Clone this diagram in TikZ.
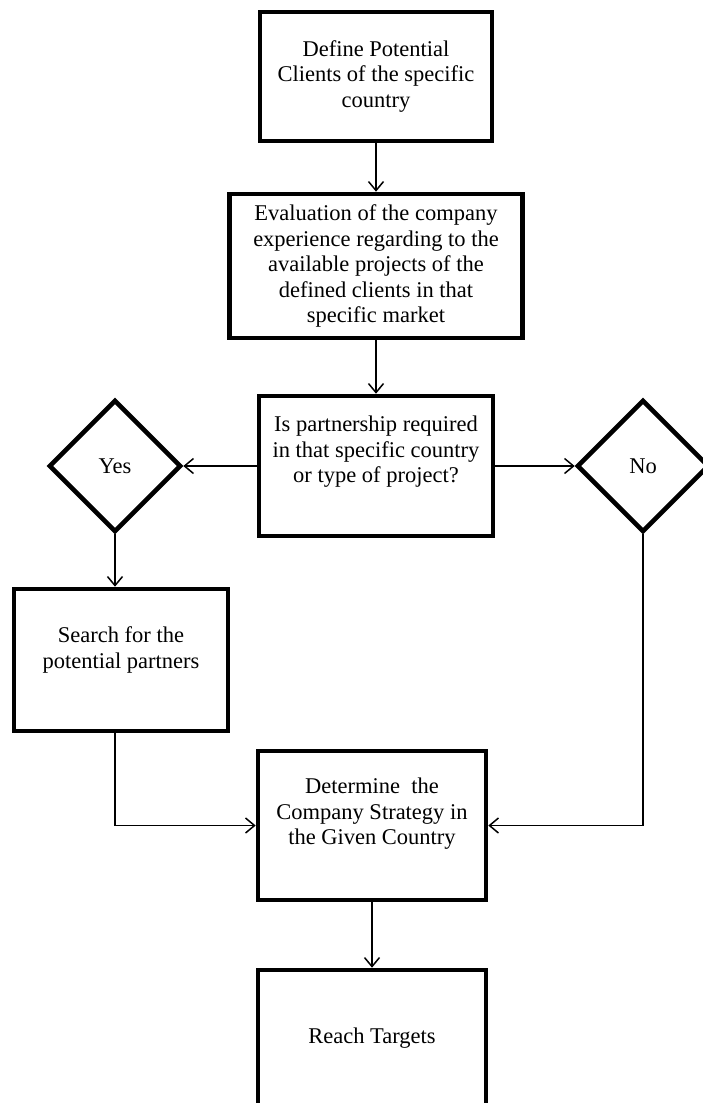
\documentclass[tikz,border=0pt]{standalone}
\usepackage{fontspec}
\setmainfont{Liberation Serif}
\usetikzlibrary{shapes.geometric,arrows.meta}
\begin{document}
\begin{tikzpicture}[x=1pt,y=-1pt,
 box/.style={draw,line width=4.6pt,rectangle,inner sep=0pt,align=center,font=\fontsize{22.5}{25.5}\selectfont},
 dia/.style={draw,line width=4.6pt,diamond,inner sep=0pt,minimum width=132pt,minimum height=132pt,font=\fontsize{22.5}{25.5}\selectfont},
 txt/.style={align=center,font=\fontsize{22.5}{25.5}\selectfont,inner sep=0pt},
 conn/.style={line width=1.5pt,-{Straight Barb[length=9pt,width=15pt]}},
]
\useasboundingbox (0,0) rectangle (703,1103);
\clip (0,0) rectangle (703,1103);

\node[box,minimum width=232pt,minimum height=129pt] (b1) at (376,76.5) {Define Potential\\Clients of the specific\\country};
\node[box,minimum width=293pt,minimum height=144pt] (b2) at (376,266) {Evaluation of the company\\experience regarding to the\\available projects of the\\defined clients in that\\specific market};
\node[box,minimum width=234pt,minimum height=140pt] (b3) at (376,466) {};
\node[txt] (t3) at (376,452) {Is partnership required\\in that specific country\\or type of project?};

\node[dia] (yes) at (115,466) {Yes};
\node[dia] (no) at (643,466) {No};

\node[box,minimum width=214pt,minimum height=142pt] (srch) at (121,660) {};
\node[txt] (ts) at (121,650) {Search for the\\potential partners};

\node[box,minimum width=228pt,minimum height=149pt] (det) at (372,825.5) {};
\node[txt] (td) at (372,814) {Determine\ \ the\\Company Strategy in\\the Given Country};

\node[box,minimum width=228pt,minimum height=200pt] (reach) at (372,1070) {};
\node[txt] (tr) at (372,1038) {Reach Targets};

\draw[conn] (b1) -- (b2);
\draw[conn] (b2) -- (b3);
\draw[conn] (b3.west) -- (yes.east);
\draw[conn] (b3.east) -- (no.west);
\draw[conn] (yes.south) -- (yes.south |- srch.north);
\draw[conn] (yes.south |- srch.south) -- (yes.south |- det.west) -- (det.west);
\draw[conn] (no.south) -- (no.south |- det.east) -- (det.east);
\draw[conn] (det) -- (reach);
\end{tikzpicture}
\end{document}
